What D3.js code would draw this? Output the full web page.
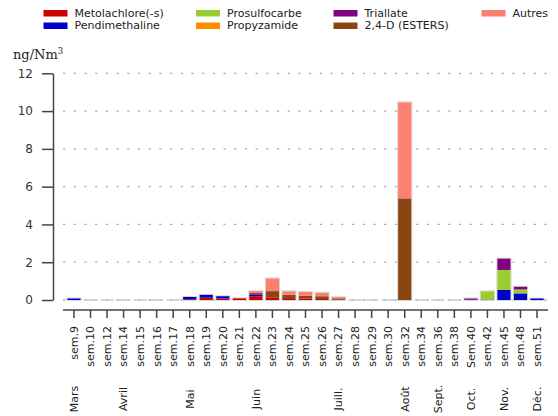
<!DOCTYPE html>
<html>
<head>
<meta charset="utf-8">
<script src="https://cdn.jsdelivr.net/npm/d3@7"></script>
<style>
  html, body { margin: 0; padding: 0; background: #fff; }
  svg { display: block; font-family: "DejaVu Sans", sans-serif; }
</style>
</head>
<body>
<svg id="chart" width="558" height="416"></svg>
<script>
// Weekly atmospheric concentrations of pesticides (ng/Nm3)
const weeks = ["sem.9","sem.10","sem.12","sem.14","sem.15","sem.16","sem.17","sem.18","sem.19","sem.20",
  "sem.21","sem.22","sem.23","sem.24","sem.25","sem.26","sem.27","sem.28","sem.29","sem.30",
  "sem.32","sem.34","sem.36","sem.38","Sem.40","sem.42","sem.45","sem.48","sem.51"];

const monthLabels = ["Mars","Avril","Mai","Juin","Juill.","Août","Sept.","Oct.","Nov.","Déc."];
const monthWeeks  = ["sem.9","sem.14","sem.18","sem.22","sem.27","sem.32","sem.36","Sem.40","sem.45","sem.51"];

const seriesNames  = ["Metolachlore(-s)","Pendimethaline","Prosulfocarbe","Propyzamide","Triallate","2,4-D (ESTERS)","Autres"];
const seriesColors = ["#cd0000","#0000cd","#9acd32","#ff8c00","#800080","#8b4513","#fa8072"];

const metolachlore   = [0,0,0,0,0,0,0,0.04,0.12,0.08, 0.09,0.20,0.14,0.10,0.08,0.05,0.03,0,0,0, 0,0,0,0,0,0,0,0,0];
const pendimethaline = [0.08,0,0,0,0,0,0,0.12,0.15,0.12, 0,0.08,0,0,0,0,0,0,0,0, 0,0,0,0,0.02,0.02,0.53,0.35,0.08];
const prosulfocarbe  = [0,0,0,0,0,0,0,0,0,0, 0,0,0,0,0,0,0,0,0,0, 0,0,0,0,0,0.44,1.06,0.21,0];
const propyzamide    = [0,0,0,0,0,0,0,0,0,0, 0,0,0,0,0,0,0,0,0,0, 0,0,0,0,0,0,0,0,0];
const triallate      = [0,0,0,0,0,0,0,0,0,0, 0,0.04,0,0,0,0,0,0,0,0, 0,0,0,0,0.06,0,0.60,0.14,0];
const esters24D      = [0,0,0,0,0,0,0,0,0,0, 0,0.05,0.33,0.18,0.14,0.15,0.06,0,0,0, 5.38,0,0,0,0,0,0,0,0];
const autres         = [0,0,0,0,0,0,0,0,0,0, 0,0.10,0.67,0.18,0.20,0.18,0.06,0,0,0, 5.08,0,0,0,0,0,0,0,0];

const yTicks = [0,2,4,6,8,10,12];

const seriesValues = [metolachlore, pendimethaline, prosulfocarbe, propyzamide, triallate, esters24D, autres];
const rows = weeks.map((w, i) => {
  const r = { week: w };
  seriesNames.forEach((s, k) => r[s] = seriesValues[k][i]);
  return r;
});
const total = r => d3.sum(seriesNames, s => r[s]);

const svg = d3.select("#chart");
const axisColor = "#444";

const x = d3.scaleBand().domain(weeks).range([65.7, 545.3]).paddingInner(0.2).paddingOuter(0.1);
const y = d3.scaleLinear().domain([0, 12]).range([300, 73.3]);

// dotted horizontal grid
svg.append("g").selectAll("line").data(yTicks).join("line")
  .attr("x1", 63).attr("x2", 548)
  .attr("y1", d => y(d)).attr("y2", d => y(d))
  .attr("stroke", "#aaa").attr("stroke-width", 1.3)
  .attr("stroke-dasharray", "2.2 8.5");

// baseline trace under every week (visible where nothing was measured)
svg.append("g").selectAll("line").data(weeks).join("line")
  .attr("x1", d => x(d)).attr("x2", d => x(d) + x.bandwidth())
  .attr("y1", y(0)).attr("y2", y(0))
  .attr("stroke", "#c4c4c4").attr("stroke-width", 1.4);

// light outline around each stacked column
svg.append("g").selectAll("rect").data(rows.filter(r => total(r) > 0)).join("rect")
  .attr("x", d => x(d.week) - 0.5)
  .attr("width", x.bandwidth() + 1)
  .attr("y", d => y(total(d)) - 0.5)
  .attr("height", d => y(0) - y(total(d)) + 0.5)
  .attr("fill", "none").attr("stroke", "#d8d8d8").attr("stroke-width", 1);

// stacked bars
const stack = d3.stack().keys(seriesNames)(rows);
svg.append("g").selectAll("g").data(stack).join("g")
  .attr("fill", (d, k) => seriesColors[k])
  .selectAll("rect").data(d => d.filter(p => p[1] - p[0] > 0)).join("rect")
  .attr("x", d => x(d.data.week))
  .attr("width", x.bandwidth())
  .attr("y", d => y(d[1]))
  .attr("height", d => y(d[0]) - y(d[1]));

// y axis
const yAxis = svg.append("g").attr("transform", "translate(53,0)")
  .call(d3.axisLeft(y).tickValues(yTicks).tickSize(11).tickPadding(9).tickSizeOuter(0));
yAxis.select(".domain").attr("stroke", axisColor).attr("stroke-width", 1.5);
yAxis.selectAll(".tick line").attr("stroke", axisColor).attr("stroke-width", 1.5);
yAxis.selectAll("text").attr("font-size", 12).attr("fill", "#333").attr("font-family", "DejaVu Sans");

// unit label
const unit = svg.append("text").attr("x", 13).attr("y", 59)
  .attr("font-family", "DejaVu Serif").attr("font-size", 13).attr("fill", "#222");
unit.append("tspan").text("ng/Nm");
unit.append("tspan").attr("dy", -5).attr("font-size", 8.5).text("3");

// x axis
const xAxis = svg.append("g").attr("transform", "translate(0,310)")
  .call(d3.axisBottom(x).tickSize(8).tickSizeOuter(0));
xAxis.select(".domain").attr("d", "M63,0H548").attr("stroke", axisColor).attr("stroke-width", 1.5);
xAxis.selectAll(".tick line").attr("stroke", axisColor).attr("stroke-width", 1.5);
xAxis.selectAll(".tick text")
  .attr("font-size", 11).attr("fill", "#222").attr("font-family", "DejaVu Sans")
  .attr("text-anchor", "end").attr("dy", "0.35em")
  .attr("transform", "translate(0,4) rotate(-90)").attr("x", -12).attr("y", 0);

// month labels
svg.append("g").selectAll("text").data(monthLabels).join("text")
  .attr("transform", (d, i) => `translate(${x(monthWeeks[i]) + x.bandwidth() / 2},399) rotate(-90)`)
  .attr("text-anchor", "middle").attr("dy", "0.35em")
  .attr("font-size", 11).attr("fill", "#222")
  .text(d => d);

// legend: four columns, two rows
const legendCols = [43.5, 196, 333.5, 481.5];
const legendRows = [13, 25.5];
const legendPos = [[0,0],[0,1],[1,0],[1,1],[2,0],[2,1],[3,0]];
const legend = svg.append("g").selectAll("g").data(seriesNames).join("g")
  .attr("transform", (d, k) => `translate(${legendCols[legendPos[k][0]]},${legendRows[legendPos[k][1]]})`);
legend.append("rect").attr("x", 0).attr("y", -3).attr("width", 24).attr("height", 6.5)
  .attr("fill", (d, k) => seriesColors[k]);
legend.append("text").attr("x", 31).attr("y", 0).attr("dy", "0.35em")
  .attr("font-size", 11).attr("fill", "#222").text(d => d);
</script>
</body>
</html>
